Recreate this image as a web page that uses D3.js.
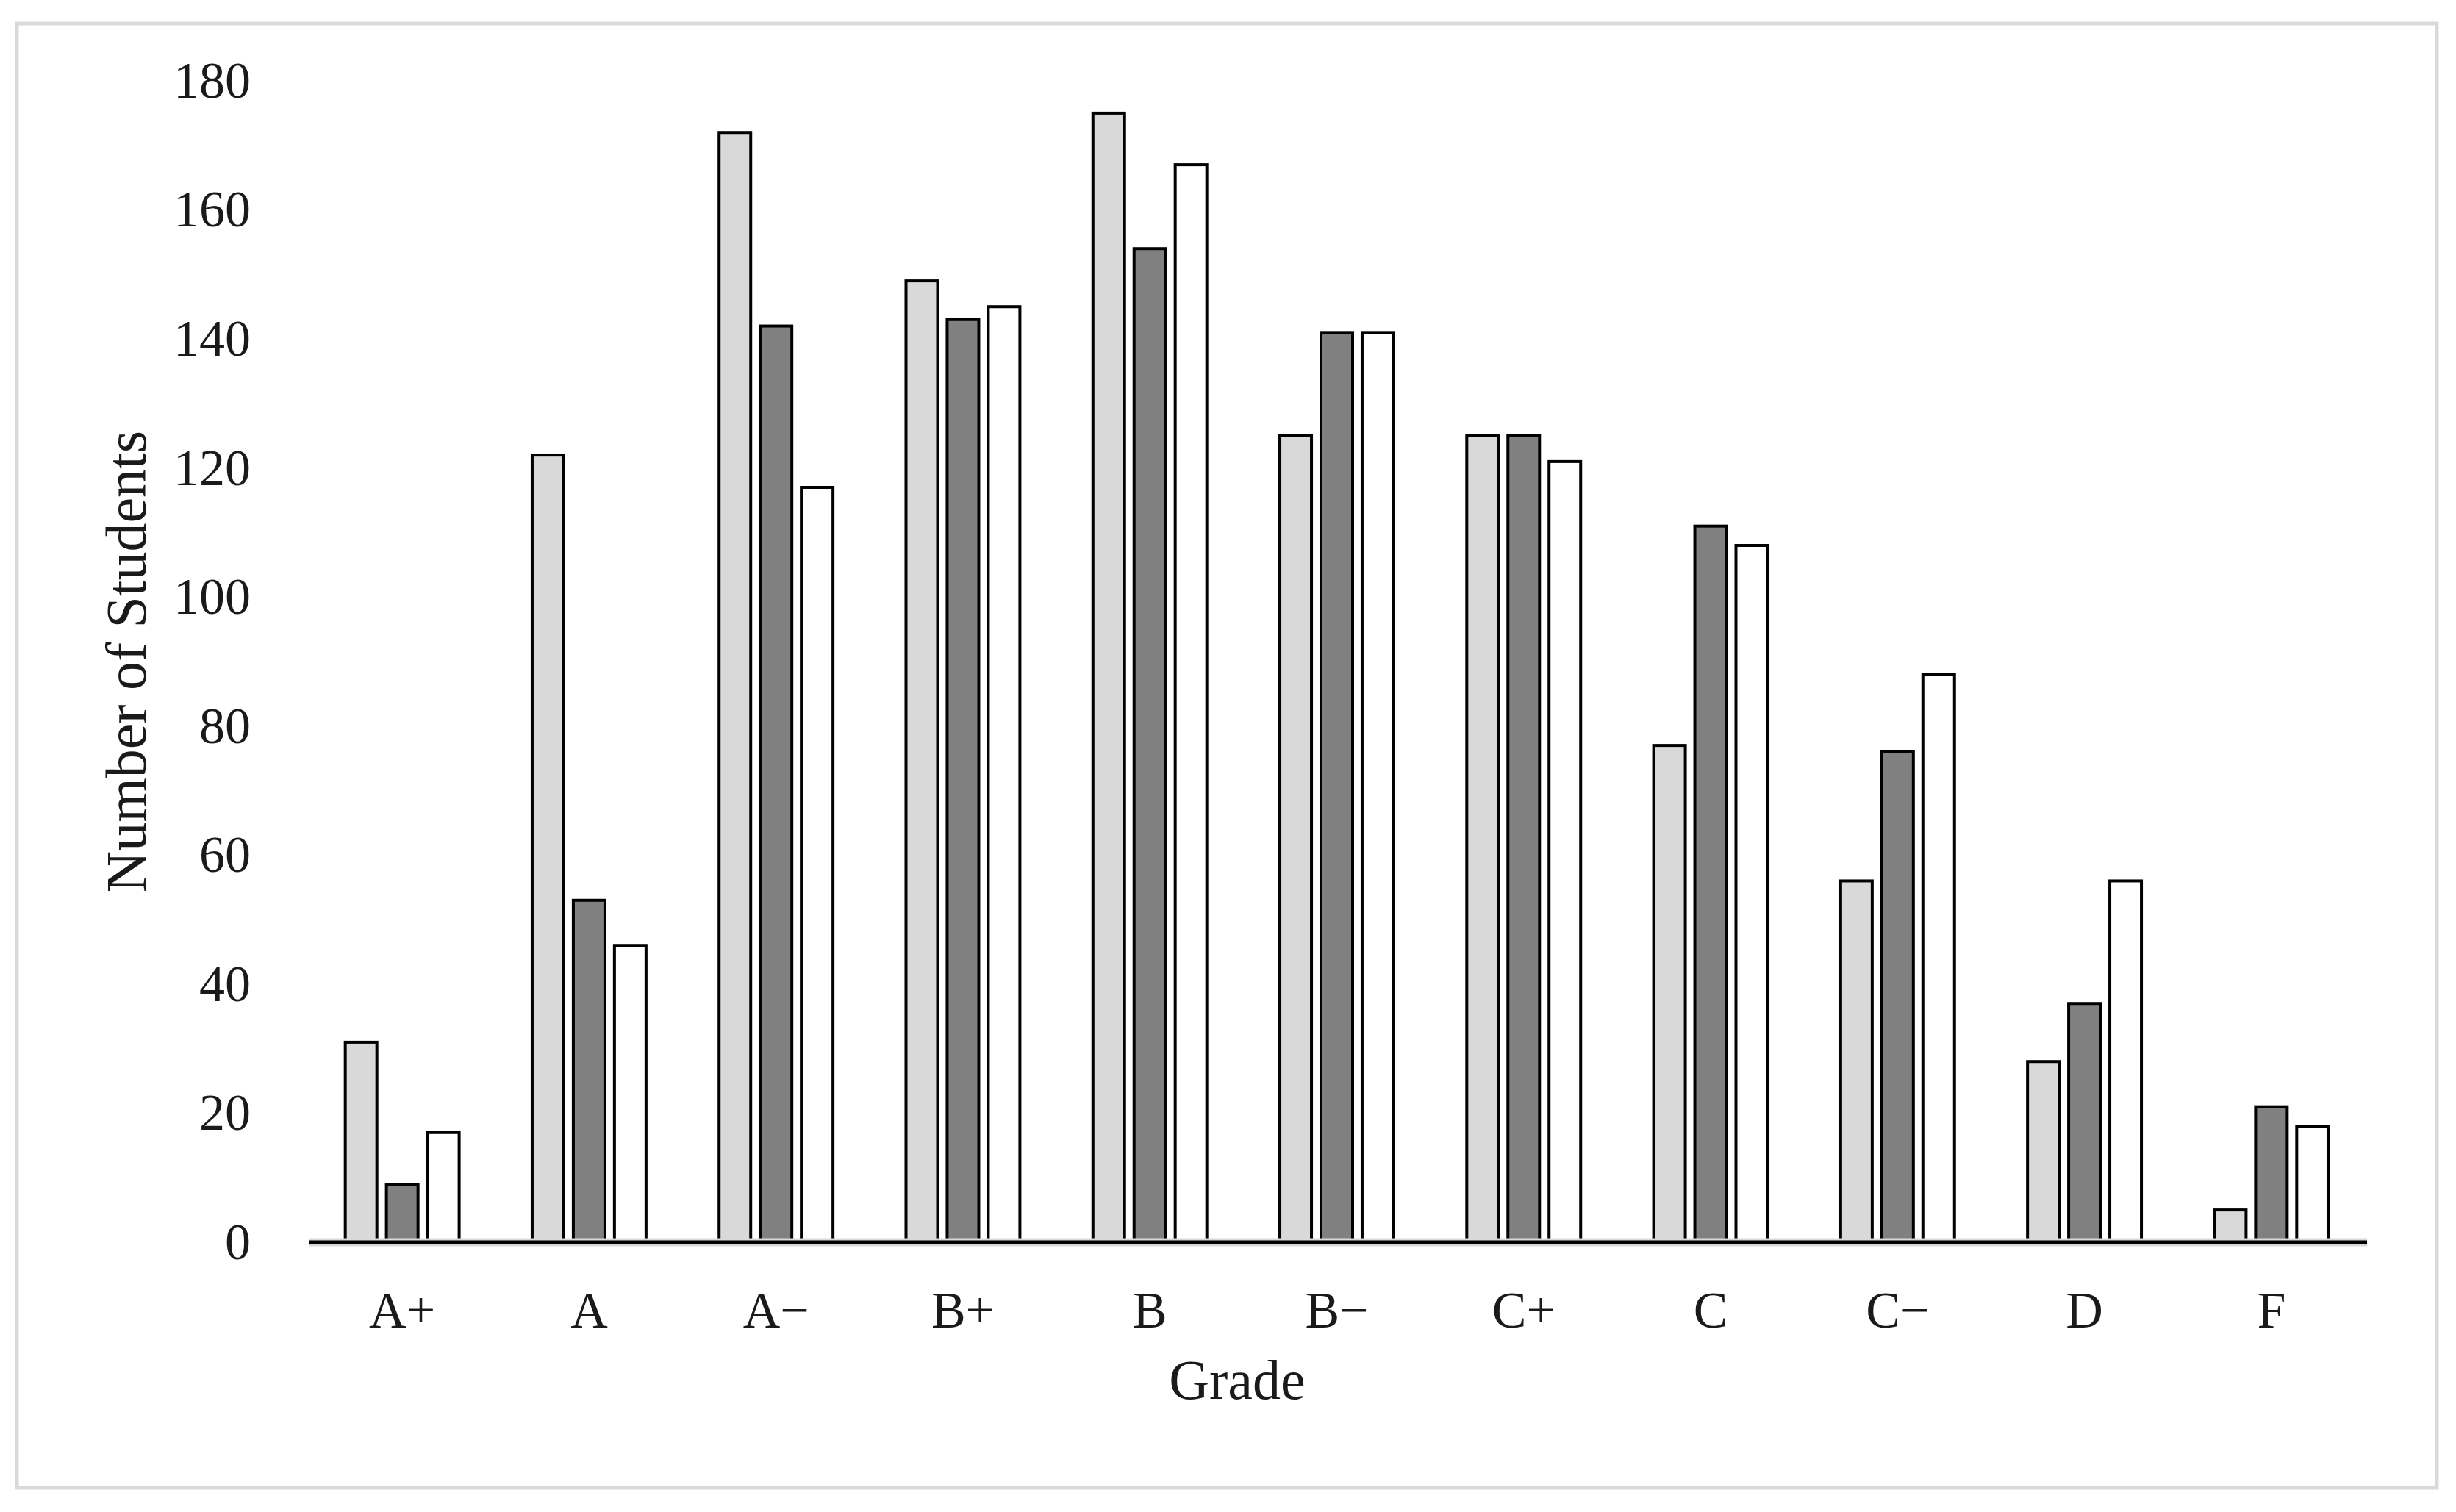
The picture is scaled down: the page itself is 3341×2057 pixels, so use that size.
<!DOCTYPE html>
<html>
<head>
<meta charset="utf-8">
<script src="https://cdn.jsdelivr.net/npm/d3@7"></script>
<style>
  html, body { margin: 0; padding: 0; background: #fff; }
  svg { display: block; }
  text { font-family: "Liberation Serif", "Times New Roman", serif; fill: #1a1a1a; }
</style>
</head>
<body>
<svg id="chart" width="3341" height="2057"></svg>
<script>
// ---- data ----
const categories = ["A+", "A", "A\u2212", "B+", "B", "B\u2212", "C+", "C", "C\u2212", "D", "F"];
const seriesNames = ["Series 1", "Series 2", "Series 3"];
const series1 = [31, 122, 172, 149, 175, 125, 125, 77, 56, 28, 5];
const series2 = [9, 53, 142, 143, 154, 141, 125, 111, 76, 37, 21];
const series3 = [17, 46, 117, 145, 167, 141, 121, 108, 88, 56, 18];
const yTicks = [0, 20, 40, 60, 80, 100, 120, 140, 160, 180];
const xTitle = "Grade";
const yTitle = "Number of Students";
const seriesColors = ["#d9d9d9", "#808080", "#ffffff"];

const seriesValues = [series1, series2, series3];

// ---- layout ----
const svg = d3.select("#chart");
const plot = { left: 420, right: 3217, top: 110, bottom: 1690 };

// outer frame
svg.append("rect")
  .attr("x", 23).attr("y", 32)
  .attr("width", 3315 - 23).attr("height", 2024 - 32)
  .attr("fill", "#fff")
  .attr("stroke", "#d9d9d9").attr("stroke-width", 5);

const x0 = d3.scaleBand().domain(categories)
  .range([plot.left, plot.right])
  .paddingInner(0.375).paddingOuter(0.1875);
const x1 = d3.scaleBand().domain(seriesNames)
  .range([0, x0.bandwidth()])
  .paddingInner(0.16);
const y = d3.scaleLinear().domain([0, 180]).range([plot.bottom, plot.top]);

const sw = 4;

// bars
const groups = svg.append("g").selectAll("g")
  .data(categories)
  .join("g")
  .attr("transform", d => `translate(${x0(d)},0)`);

groups.selectAll("rect")
  .data((c, i) => seriesNames.map((s, k) => ({ s, k, v: seriesValues[k][i] })))
  .join("rect")
  .attr("x", d => x1(d.s) + sw / 2)
  .attr("width", x1.bandwidth() - sw)
  .attr("y", d => y(d.v))
  .attr("height", d => y(0) - y(d.v))
  .attr("fill", d => seriesColors[d.k])
  .attr("stroke", "#000")
  .attr("stroke-width", sw);

// x axis baseline
svg.append("line")
  .attr("x1", plot.left).attr("x2", plot.right + 3)
  .attr("y1", y(0)).attr("y2", y(0))
  .attr("stroke", "#d9d9d9").attr("stroke-width", 11);
svg.append("line")
  .attr("x1", plot.left).attr("x2", plot.right + 3)
  .attr("y1", y(0)).attr("y2", y(0))
  .attr("stroke", "#000").attr("stroke-width", 5);

// y axis labels
const yAxis = d3.axisLeft(y).tickValues(yTicks).tickSize(0).tickPadding(79);
const gy = svg.append("g").attr("transform", `translate(${plot.left},0)`).call(yAxis);
gy.select(".domain").remove();
gy.selectAll("text")
  .style("font-family", '"Liberation Serif", serif')
  .style("font-size", "70px")
  .attr("fill", "#1a1a1a");

// x axis labels
const xAxis = d3.axisBottom(x0).tickSize(0).tickPadding(66);
const gx = svg.append("g").attr("transform", `translate(0,${y(0)})`).call(xAxis);
gx.select(".domain").remove();
gx.selectAll("text")
  .style("font-family", '"Liberation Serif", serif')
  .style("font-size", "70px")
  .attr("fill", "#1a1a1a");

// titles
svg.append("text")
  .attr("x", 1683)
  .attr("y", 1903)
  .attr("text-anchor", "middle")
  .style("font-size", "76px")
  .text(xTitle);

svg.append("text")
  .attr("transform", `translate(198,${900}) rotate(-90)`)
  .attr("text-anchor", "middle")
  .style("font-size", "78px")
  .text(yTitle);
</script>
</body>
</html>
